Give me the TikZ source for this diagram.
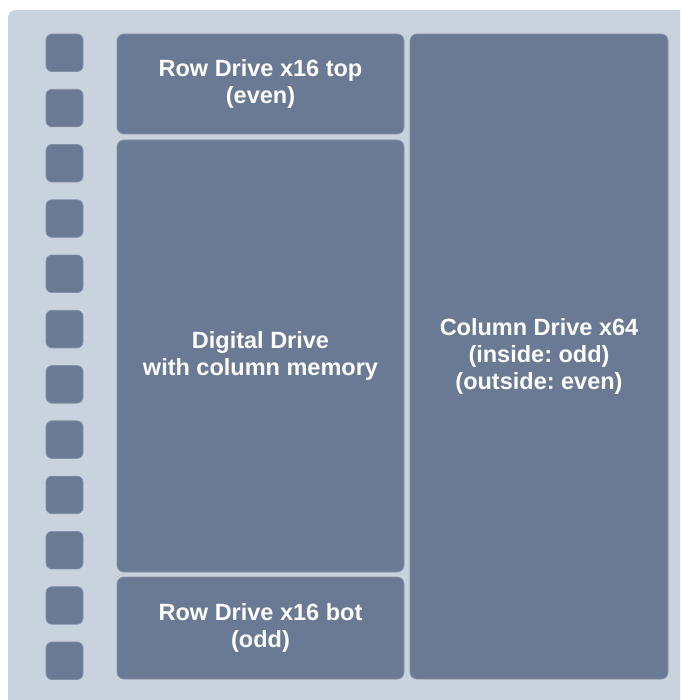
\documentclass[tikz,border=0pt]{standalone}
\usepackage{fontspec}
\setmainfont{Liberation Sans}
\frenchspacing
\definecolor{bgc}{HTML}{C9D3DD}
\definecolor{boxc}{HTML}{6B7A94}
\definecolor{edgec}{HTML}{8290A8}
\begin{document}
\begin{tikzpicture}[x=1pt,y=-1pt,
  blk/.style={rectangle, fill=boxc, draw=edgec, line width=0.8pt, rounded corners=7pt,
    inner sep=0pt, outer sep=0pt, text=white, align=center,
    font=\frenchspacing\fontsize{23.5}{27}\selectfont\bfseries},
  pad/.style={rectangle, fill=boxc, draw=edgec, line width=0.8pt, rounded corners=6pt,
    inner sep=0pt, outer sep=0pt, minimum width=37pt, minimum height=37.5pt}]
\useasboundingbox (0,0) rectangle (680,700);
\clip (0,0) rectangle (680,700);
\fill[white] (0,0) rectangle (680,700);
\fill[bgc, rounded corners=8pt] (8,10) rectangle (720,740);
\foreach \i in {0,...,11}{
  \node[pad] (p\i) at (64.5, 52.75+55.27*\i) {};
}
\node[blk, minimum width=287pt, minimum height=100pt] (rtop) at (260.5,84) {Row Drive x16 top\\(even)};
\node[blk, minimum width=287pt, minimum height=432pt] (dig) at (260.5,356) {Digital Drive\\with column memory};
\node[blk, minimum width=287pt, minimum height=102pt] (rbot) at (260.5,628) {Row Drive x16 bot\\(odd)};
\node[blk, minimum width=258pt, minimum height=645pt] (col) at (539,356.5) {Column Drive x64\\(inside: odd)\\(outside: even)};
\end{tikzpicture}
\end{document}
